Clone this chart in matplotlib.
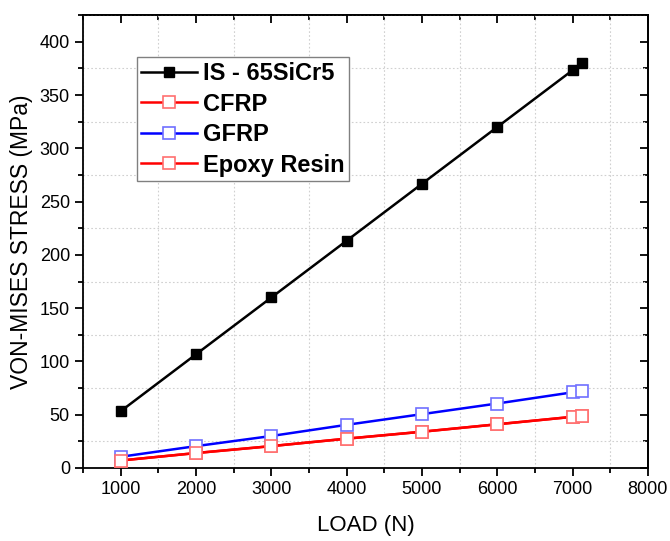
import matplotlib
matplotlib.use("Agg")
import matplotlib.pyplot as plt
from matplotlib.ticker import MultipleLocator

plt.rcParams['font.family'] = ['Liberation Sans', 'DejaVu Sans']

load = [1000, 2000, 3000, 4000, 5000, 6000, 7000, 7125]
steel = [53.3, 106.7, 160, 213.3, 266.7, 320, 373.3, 380]
cfrp = [7, 14, 20.5, 27.5, 34, 41, 48, 49]
gfrp = [10.5, 20.5, 30, 40.5, 50.5, 60.5, 71, 72]
epoxy = [7, 14, 20.5, 27.5, 34, 41, 48, 49]

fig = plt.figure(figsize=(6.7, 5.41), dpi=100)
ax = fig.add_axes([0.124, 0.135, 0.843, 0.837])

ax.plot(load, steel, color='black', lw=1.8, marker='s', ms=7.5,
        mfc='black', mec='black', label='IS - 65SiCr5', zorder=3)
ax.plot(load, cfrp, color='red', lw=1.8, marker='s', ms=8,
        mfc='white', mec='#ff7070', mew=1.2, label='CFRP', zorder=3)
ax.plot(load, gfrp, color='blue', lw=1.8, marker='s', ms=8,
        mfc='white', mec='#7070ff', mew=1.2, label='GFRP', zorder=3)
ax.plot(load, epoxy, color='red', lw=1.8, marker='s', ms=8,
        mfc='white', mec='#ff7070', mew=1.2, label='Epoxy Resin', zorder=3)

ax.set_xlim(500, 8000)
ax.set_ylim(0, 425)
ax.xaxis.set_major_locator(MultipleLocator(1000))
ax.xaxis.set_minor_locator(MultipleLocator(500))
ax.yaxis.set_major_locator(MultipleLocator(50))
ax.yaxis.set_minor_locator(MultipleLocator(25))

ax.set_xticks([1000, 2000, 3000, 4000, 5000, 6000, 7000, 8000])
ax.set_xlim(500, 8000)

# grid at minor positions (dotted)
ax.grid(which='minor', ls=(0, (1.5, 2)), color='#d0d0d0', lw=0.8)
ax.grid(which='major', visible=False)
ax.set_axisbelow(True)

for s in ax.spines.values():
    s.set_linewidth(1.3)

ax.tick_params(which='both', direction='out', top=False, right=False,
               width=1.3, labelsize=13)
ax.tick_params(which='major', length=6)
ax.tick_params(which='minor', length=3.5)

# inward ticks on top and right
ax2 = ax.secondary_xaxis('top')
ax2.xaxis.set_major_locator(MultipleLocator(1000))
ax2.xaxis.set_minor_locator(MultipleLocator(500))
ax2.tick_params(which='both', direction='in', width=1.3, labeltop=False)
ax2.tick_params(which='major', length=6)
ax2.tick_params(which='minor', length=3.5)
ax2.spines['top'].set_linewidth(1.3)
ax3 = ax.secondary_yaxis('right')
ax3.yaxis.set_major_locator(MultipleLocator(50))
ax3.yaxis.set_minor_locator(MultipleLocator(25))
ax3.tick_params(which='both', direction='in', width=1.3, labelright=False)
ax3.tick_params(which='major', length=6)
ax3.tick_params(which='minor', length=3.5)
ax3.spines['right'].set_linewidth(1.3)

ax.set_xlabel('LOAD (N)', fontsize=16, labelpad=12)
ax.set_ylabel('VON-MISES STRESS (MPa)', fontsize=16.5, labelpad=5)

leg = ax.legend(loc='upper left', bbox_to_anchor=(0.095, 0.907), borderaxespad=0,
                prop={'weight': 'bold', 'size': 17}, fancybox=False,
                edgecolor='#808080', handlelength=2.35, handletextpad=0.25,
                labelspacing=0.32, borderpad=0.2, framealpha=1)
leg.get_frame().set_linewidth(1.0)

fig.savefig('out.png', dpi=100)
